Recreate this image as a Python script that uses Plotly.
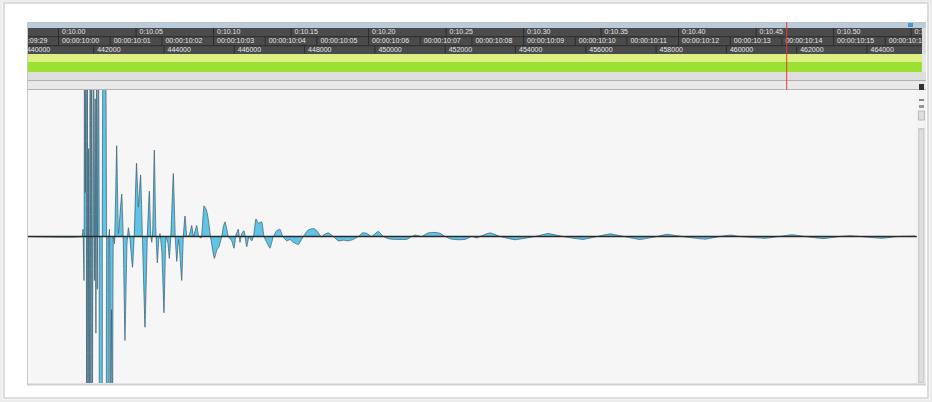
import plotly.graph_objects as go

# ---------------- data ----------------
SAMPLE_RATE = 44100
FPS = 30

time_tick_seconds = [10.00, 10.05, 10.10, 10.15, 10.20, 10.25, 10.30, 10.35,
                     10.40, 10.45, 10.50, 10.55]
time_tick_labels = ["0:10.00", "0:10.05", "0:10.10", "0:10.15", "0:10.20", "0:10.25",
                    "0:10.30", "0:10.35", "0:10.40", "0:10.45", "0:10.50", "0:10.55"]

timecode_seconds = [9, 10, 10, 10, 10, 10, 10, 10, 10, 10, 10, 10, 10, 10, 10, 10, 10, 10]
timecode_frames = [29, 0, 1, 2, 3, 4, 5, 6, 7, 8, 9, 10, 11, 12, 13, 14, 15, 16]

sample_ticks = [440000, 442000, 444000, 446000, 448000, 450000, 452000,
                454000, 456000, 458000, 460000, 462000, 464000]

playhead_sample = 461716

wave_samples = [
    440000, 441667, 441696, 441724, 441738, 441761, 441781, 441801, 441818, 441838,
    441855, 441875, 441900, 441920, 441940, 441960, 441980, 441997, 442020, 442043,
    442063, 442083, 442102, 442131, 442156, 442188, 442216, 442245, 442265, 442307,
    442336, 442367, 442384, 442413, 442430, 442450, 442472, 442506, 442535, 442560,
    442592, 442654, 442703, 442797,
    442839, 442890, 442947, 442987, 443033, 443104, 443155, 443218, 443272, 443334,
    443388, 443460, 443525, 443582, 443625, 443653, 443681, 443724, 443767, 443810,
    443852, 443886, 443938, 444000, 444057, 444114, 444151, 444194, 444265, 444319,
    444364, 444413, 444441, 444504, 444549, 444598, 444654, 444720, 444788, 444839,
    444930, 444990, 445060, 445138, 445209, 445252, 445323, 445431, 445508, 445565,
    445642, 445690, 445736, 445780, 445829, 445926, 445992, 446048, 446114, 446162,
    446211, 446276, 446353, 446418, 446495, 446546, 446617, 446683, 446780, 446845,
    446922, 447016, 447110, 447206, 447300, 447377, 447491, 447585, 447679, 447821,
    447963, 448105, 448248, 448344, 448487, 448532, 448674, 448817, 448959, 449101,
    449243, 449386, 449528, 449653, 449767, 449909, 450097, 450239, 450381, 450524,
    450714, 450905, 451047, 451141, 451332, 451520, 451710, 451852, 451995, 452185,
    452373, 452563, 452754, 452905, 452990, 453275, 453559, 453986, 454555, 454925,
    455352, 455921, 456319, 456689, 457087, 457542, 458026, 458311, 458737, 459391,
    459818, 460103, 460387, 461099, 461497, 461867, 462237, 462748, 463232, 463517,
    463801, 464427, 464882, 465366,
]
wave_amps = [
    0.0, 0.0, 0.05, -0.3, 1.6, 0.3, 1.6, -1.6, 1.6, -1.6,
    0.6, -1.6, 1.6, -1.6, 1.6, -1.6, 0.3, 1.6, -0.3, 0.94,
    -0.66, 1.6, -0.36, 1.6, 0.2, -1.6, -1.6, 0.1, 1.6, 1.0,
    1.6, 0.05, -1.6, -1.6, 0.0, 0.05, -1.6, -0.5, -1.6, 0.0,
    -0.05, 0.62, 0.02, 0.29,
    0.0, -0.71, -0.05, 0.06, -0.02, -0.21, 0.02, 0.50, 0.20, 0.42,
    -0.02, -0.62, 0.0, 0.31, 0.0, -0.04, 0.05, 0.59, 0.05, -0.18,
    -0.02, 0.02, -0.10, -0.52, 0.0, -0.05, -0.15, 0.0, 0.43, 0.0,
    -0.17, -0.02, -0.08, -0.30, 0.0, 0.14, 0.0, 0.01, 0.075, 0.0,
    0.075, 0.0, -0.01, 0.21, 0.18, 0.13, 0.0, -0.15, -0.09, -0.07,
    0.0, 0.07, 0.10, 0.06, 0.0, -0.03, -0.08, 0.01, 0.05, -0.04,
    0.02, 0.04, -0.07, 0.0, -0.03, 0.0, 0.12, 0.09, 0.10, 0.0,
    -0.04, -0.08, 0.0, 0.04, 0.05, 0.0, -0.03, -0.02, -0.04, -0.055,
    0.0, 0.045, 0.055, 0.04, -0.005, 0.01, 0.025, 0.0, -0.03, -0.025,
    -0.03, -0.02, 0.0, 0.025, 0.022, 0.0, 0.035, 0.0, -0.015, -0.02,
    -0.02, -0.02, 0.0, 0.01, 0.0, 0.025, 0.028, 0.022, 0.0, -0.018,
    -0.022, -0.02, 0.0, -0.01, 0.0, 0.025, 0.0, -0.022, 0.0, 0.02,
    0.0, -0.02, 0.0, 0.018, 0.0, -0.02, 0.0, 0.015, 0.0, -0.018,
    0.0, 0.01, 0.0, -0.012, 0.0, 0.012, 0.0, -0.014, 0.0, 0.005,
    0.0, -0.012, 0.0, 0.003,
]

# ---------------- layout helpers (pixel positions of the UI) ----------------
W, H = 932, 402
def px(x):
    return x / W
def py(y):
    return 1 - y / H

X_LEFT = 28
X_WAVE_RIGHT = 915
X_RULER_RIGHT = 922
REF_PX = 93.7          # pixel where sample 442000 sits
SPP = 28.45            # samples per pixel
wave_range = [442000 - (REF_PX - X_LEFT) * SPP, 442000 + (X_WAVE_RIGHT - REF_PX) * SPP]
ruler_range = [442000 - (REF_PX - X_LEFT) * SPP, 442000 + (X_RULER_RIGHT - REF_PX) * SPP]

ROW1 = (28, 36.5)
ROW2 = (37, 45.5)
ROW3 = (46, 53.5)
WAVE = (90, 383)

fig = go.Figure()

# waveform
fig.add_trace(go.Scatter(
    x=wave_samples, y=wave_amps, mode="lines", fill="tozeroy",
    fillcolor="#5fc4e6", line=dict(color="#35596b", width=0.7, shape="spline", smoothing=0.3),
    xaxis="x", yaxis="y", hoverinfo="skip", showlegend=False,
))

# rulers
time_x = [t * SAMPLE_RATE for t in time_tick_seconds]
tc_x = [(s + f / FPS) * SAMPLE_RATE for s, f in zip(timecode_seconds, timecode_frames)]
tc_labels = ["00:00:%02d:%02d" % (s, f) for s, f in zip(timecode_seconds, timecode_frames)]

def sep_trace(xs, yaxis):
    xx, yy = [], []
    for v in xs:
        xx += [v, v, None]
        yy += [0, 1, None]
    return go.Scatter(x=xx, y=yy, mode="lines", line=dict(color="#2c2c2c", width=1),
                      xaxis="x2", yaxis=yaxis, hoverinfo="skip", showlegend=False)

for xs, labels, ya in [(time_x, time_tick_labels, "y2"),
                       (tc_x, tc_labels, "y3"),
                       (sample_ticks, [str(v) for v in sample_ticks], "y4")]:
    fig.add_trace(sep_trace(xs, ya))
    fig.add_trace(go.Scatter(
        x=xs, y=[0.5] * len(xs), mode="markers+text", text=labels, textposition="middle right",
        marker=dict(size=4, opacity=0),
        textfont=dict(family="Liberation Sans, Arial", size=7, color="#e2e2e2"),
        xaxis="x2", yaxis=ya, cliponaxis=True, hoverinfo="skip", showlegend=False,
    ))

shapes = []
def rect(x0, y0, x1, y1, color, line=None, layer="below"):
    shapes.append(dict(type="rect", xref="paper", yref="paper",
                       x0=px(x0), x1=px(x1), y0=py(y1), y1=py(y0),
                       fillcolor=color, line=dict(width=0) if line is None else line,
                       layer=layer))
def hline(x0, x1, y, color, width=1, layer="below"):
    shapes.append(dict(type="line", xref="paper", yref="paper",
                       x0=px(x0), x1=px(x1), y0=py(y), y1=py(y),
                       line=dict(color=color, width=width), layer=layer))

# outer drop-shadow frame
rect(1, 1, 931, 401, "rgba(0,0,0,0)", line=dict(color="#ececec", width=3))
rect(4, 3, 928, 398, "rgba(0,0,0,0)", line=dict(color="#d2d2d2", width=1.5))

# top strip
rect(27, 22, 926, 28, "#bccbd8")
rect(908, 23, 913, 27, "#3a9ad9")
# ruler rows
rect(27, 28, X_RULER_RIGHT, 54, "#4b4b4b")
hline(27, X_RULER_RIGHT, 36.7, "#2c2c2c")
hline(27, X_RULER_RIGHT, 45.7, "#2c2c2c")
rect(X_RULER_RIGHT, 28, 926, 54, "#dcdcdc")
# green bands
rect(27, 54, X_RULER_RIGHT, 62, "#dcef82")
rect(27, 62, X_RULER_RIGHT, 72, "#9de034")
rect(X_RULER_RIGHT, 54, 926, 72, "#e8e8e8")
# gray bands
rect(27, 72, 926, 80.5, "#dedede")
hline(27, 926, 80.5, "#b0b0b0")
rect(27, 81, 926, 89.5, "#e9e9e9")
hline(27, 926, 89.5, "#b4b4b4")
# waveform area
rect(27, 90, 926, 384, "#f6f6f6")
shapes.append(dict(type="line", xref="paper", yref="paper", x0=px(27.5), x1=px(27.5),
                   y0=py(384), y1=py(22), line=dict(color="#c8c8c8", width=1), layer="below"))
# right panel: scrollbar and icons
rect(915.5, 90, 926, 384, "#f3f3f3")
rect(918, 128, 924.5, 383, "#cdcdcd")
rect(919.5, 130, 923, 382, "#dedede")
rect(919, 84, 924, 90, "#333333")
rect(919, 99, 924, 101, "#888888")
rect(919, 105, 924, 108, "#999999")
rect(918.5, 111, 924.5, 120, "#dddddd", line=dict(color="#bbbbbb", width=1))
# bottom border
hline(27, 926, 384.5, "#cfcfcf", width=2)

# zero line
shapes.append(dict(type="line", xref="x domain", yref="y", x0=0, x1=1.002, y0=0, y1=0,
                   line=dict(color="#2a2a2a", width=1.6), layer="above"))
# playhead
shapes.append(dict(type="line", xref="x2", yref="paper", x0=playhead_sample, x1=playhead_sample,
                   y0=py(89.5), y1=py(22), line=dict(color="#e53a2e", width=1), layer="above"))

ax_common = dict(visible=False, showgrid=False, zeroline=False, fixedrange=True)
fig.update_layout(
    width=W, height=H, margin=dict(l=0, r=0, t=0, b=0),
    paper_bgcolor="white", plot_bgcolor="rgba(0,0,0,0)",
    showlegend=False, shapes=shapes,
    xaxis=dict(domain=[px(X_LEFT), px(X_WAVE_RIGHT)], range=wave_range, anchor="y", **ax_common),
    yaxis=dict(domain=[py(WAVE[1]), py(WAVE[0])], range=[-1, 1], anchor="x", **ax_common),
    xaxis2=dict(domain=[px(X_LEFT), px(X_RULER_RIGHT)], range=ruler_range, anchor="y2", **ax_common),
    yaxis2=dict(domain=[py(ROW1[1]), py(ROW1[0])], range=[0, 1], anchor="x2", **ax_common),
    yaxis3=dict(domain=[py(ROW2[1]), py(ROW2[0])], range=[0, 1], anchor="x2", **ax_common),
    yaxis4=dict(domain=[py(ROW3[1]), py(ROW3[0])], range=[0, 1], anchor="x2", **ax_common),
)

fig.write_html(
    "out.html",
    config={"displayModeBar": False, "staticPlot": True},
    post_script="document.body.style.margin='0';document.body.style.overflow='hidden';",
)
